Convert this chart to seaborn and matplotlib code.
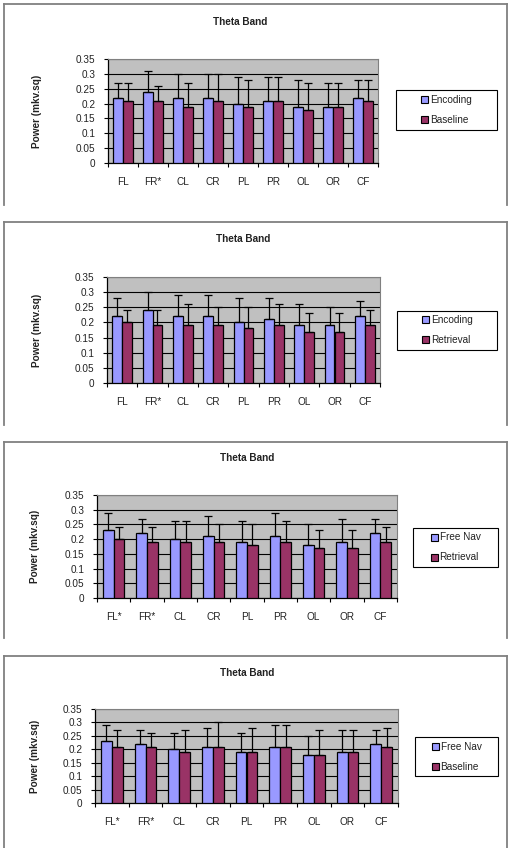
"""Theta band power, four grouped bar panels (Excel style)"""

import matplotlib
matplotlib.use('Agg')
import matplotlib.pyplot as plt
from matplotlib.patches import Patch, Rectangle
from matplotlib.lines import Line2D
import seaborn as sns
import pandas as pd
import numpy as np


# ----------------------------- data ----------------------------------------
labels_a = ['FL', 'FR*', 'CL', 'CR', 'PL', 'PR', 'OL', 'OR', 'CF']
labels_b = ['FL*', 'FR*', 'CL', 'CR', 'PL', 'PR', 'OL', 'OR', 'CF']

# panel 1: Encoding vs Baseline
enc1 = [0.22, 0.24, 0.22, 0.22, 0.20, 0.21, 0.19, 0.19, 0.22]
enc1_err = [0.05, 0.07, 0.08, 0.08, 0.09, 0.08, 0.09, 0.08, 0.06]
base1 = [0.21, 0.21, 0.19, 0.21, 0.19, 0.21, 0.18, 0.19, 0.21]
base1_err = [0.06, 0.05, 0.08, 0.09, 0.09, 0.08, 0.09, 0.08, 0.07]

# panel 2: Encoding vs Retrieval
enc2 = [0.22, 0.24, 0.22, 0.22, 0.20, 0.21, 0.19, 0.19, 0.22]
enc2_err = [0.06, 0.06, 0.07, 0.07, 0.08, 0.07, 0.07, 0.06, 0.05]
retr2 = [0.20, 0.19, 0.19, 0.19, 0.18, 0.19, 0.17, 0.17, 0.19]
retr2_err = [0.04, 0.05, 0.07, 0.06, 0.07, 0.07, 0.06, 0.06, 0.05]

# panel 3: Free Nav vs Retrieval
nav3 = [0.23, 0.22, 0.20, 0.21, 0.19, 0.21, 0.18, 0.19, 0.22]
nav3_err = [0.06, 0.05, 0.06, 0.07, 0.07, 0.08, 0.07, 0.08, 0.05]
retr3 = [0.20, 0.19, 0.19, 0.19, 0.18, 0.19, 0.17, 0.17, 0.19]
retr3_err = [0.04, 0.05, 0.07, 0.06, 0.07, 0.07, 0.06, 0.06, 0.05]

# panel 4: Free Nav vs Baseline
nav4 = [0.23, 0.22, 0.20, 0.21, 0.19, 0.21, 0.18, 0.19, 0.22]
nav4_err = [0.06, 0.05, 0.06, 0.07, 0.07, 0.08, 0.07, 0.08, 0.05]
base4 = [0.21, 0.21, 0.19, 0.21, 0.19, 0.21, 0.18, 0.19, 0.21]
base4_err = [0.06, 0.05, 0.08, 0.09, 0.09, 0.08, 0.09, 0.08, 0.07]

yticks = [0, 0.05, 0.1, 0.15, 0.2, 0.25, 0.3, 0.35]
ytick_labels = ['0', '0.05', '0.1', '0.15', '0.2', '0.25', '0.3', '0.35']

panels = [
    (labels_a, 'Encoding', enc1, enc1_err, 'Baseline', base1, base1_err),
    (labels_a, 'Encoding', enc2, enc2_err, 'Retrieval', retr2, retr2_err),
    (labels_b, 'Free Nav', nav3, nav3_err, 'Retrieval', retr3, retr3_err),
    (labels_b, 'Free Nav', nav4, nav4_err, 'Baseline', base4, base4_err),
]

# ----------------------------- layout (pixels) -----------------------------
W, H = 512, 848
# plot area: x0, x1, y_top, y_bottom
plot_px = [(108, 378, 59, 163), (107, 380, 277, 383),
           (97, 397, 495, 598), (95, 398, 709, 803)]
# legend box: x0, x1, y_top, y_bottom
legend_px = [(396, 497, 90, 130), (397, 497, 311, 350),
             (413, 498, 528, 567), (415, 498, 737, 776)]
# chart frame: top, bottom (open at bottom, cropped)
frame_px = [(4, 205), (222, 425), (442, 638), (656, 848)]
title_px = [(240, 22), (243, 239), (247, 458), (247, 673)]
ylab_x = [37, 37, 35, 35]

BLUE = '#9999FF'
MAROON = '#993366'
GRAY = '#C0C0C0'
TXT = '#222222'

plt.rcParams['font.family'] = ['Liberation Sans', 'DejaVu Sans']
FS = 7.2

fig = plt.figure(figsize=(W / 100, H / 100), dpi=100)
fig.patch.set_facecolor('white')


def fx(px):
    return px / W


def fy(py):
    return 1 - py / H


for i, (cats, n1, v1, e1, n2, v2, e2) in enumerate(panels):
    x0, x1, yt, yb = plot_px[i]
    ax = fig.add_axes([fx(x0), fy(yb), fx(x1 - x0), (yb - yt) / H])

    df = pd.DataFrame({'Region': cats * 2,
                       'Power': v1 + v2,
                       'Condition': [n1] * len(cats) + [n2] * len(cats)})
    sns.barplot(data=df, x='Region', y='Power', hue='Condition', ax=ax,
                palette=[BLUE, MAROON], saturation=1, width=0.64,
                edgecolor='black', linewidth=0.9, errorbar=None,
                legend=False, zorder=3)

    # one-sided error bars from the bar positions seaborn placed
    errs = e1 + e2
    vals = v1 + v2
    for bar, v, e in zip(ax.patches, vals, errs):
        xc = bar.get_x() + bar.get_width() / 2
        ax.errorbar([xc], [v], yerr=[[0], [e]], fmt='none', ecolor='black',
                    elinewidth=0.9, capsize=3, capthick=0.9, zorder=4)

    ax.set_facecolor(GRAY)
    ax.set_ylim(0, 0.35)
    ax.set_xlim(-0.5, len(cats) - 0.5)
    ax.set_yticks(yticks)
    ax.set_yticklabels(ytick_labels)
    ax.yaxis.grid(True, color='black', linewidth=0.8, zorder=0)
    ax.set_axisbelow(True)
    ax.set_xlabel('')
    ax.set_ylabel('')
    for s in ['top', 'right']:
        ax.spines[s].set_color('#808080')
        ax.spines[s].set_linewidth(0.8)
    for s in ['left', 'bottom']:
        ax.spines[s].set_color('black')
        ax.spines[s].set_linewidth(0.9)

    # Excel-like tick marks between categories
    ax.set_xticks(np.arange(len(cats)))
    ax.set_xticklabels(cats)
    ax.set_xticks(np.arange(len(cats) + 1) - 0.5, minor=True)
    ax.tick_params(axis='x', which='major', length=0, pad=10,
                   labelsize=FS, labelcolor=TXT)
    ax.tick_params(axis='x', which='minor', length=3, width=0.8, color='black')
    ax.tick_params(axis='y', length=3, width=0.8, color='black', pad=6,
                   labelsize=FS, labelcolor=TXT)

    # title and y label
    tx, ty = title_px[i]
    fig.text(fx(tx), fy(ty), 'Theta Band', ha='center', va='center',
             fontsize=FS, fontweight='bold', color=TXT)
    fig.text(fx(ylab_x[i]), fy((yt + yb) / 2), 'Power (mkv.sq)', rotation=90,
             ha='center', va='center', fontsize=FS, fontweight='bold', color=TXT)

    # legend: plain box with the entries centred inside it
    lx0, lx1, ly0, ly1 = legend_px[i]
    fig.add_artist(Rectangle((fx(lx0), fy(ly1)), fx(lx1 - lx0), (ly1 - ly0) / H,
                             transform=fig.transFigure, facecolor='white',
                             edgecolor='black', linewidth=0.8))
    handles = [Patch(facecolor=BLUE, edgecolor='black', linewidth=0.8),
               Patch(facecolor=MAROON, edgecolor='black', linewidth=0.8)]
    leg = fig.legend(handles, [n1, n2], loc='center',
                     bbox_to_anchor=(fx((lx0 + lx1) / 2), fy((ly0 + ly1) / 2)),
                     bbox_transform=fig.transFigure,
                     fontsize=FS, frameon=False,
                     handlelength=0.7, handleheight=0.7, handletextpad=0.2,
                     labelspacing=1.0, borderpad=0, borderaxespad=0)
    for t in leg.get_texts():
        t.set_color(TXT)

    # chart frame, open at the bottom
    ft, fb = frame_px[i]
    for xs, ys in [([4, 4], [ft, fb]), ([507, 507], [ft, fb]), ([4, 507], [ft, ft])]:
        fig.add_artist(Line2D([fx(x) for x in xs], [fy(y) for y in ys],
                              color='#808080', linewidth=1.3,
                              transform=fig.transFigure))

fig.savefig('out.png', dpi=100, facecolor='white')
